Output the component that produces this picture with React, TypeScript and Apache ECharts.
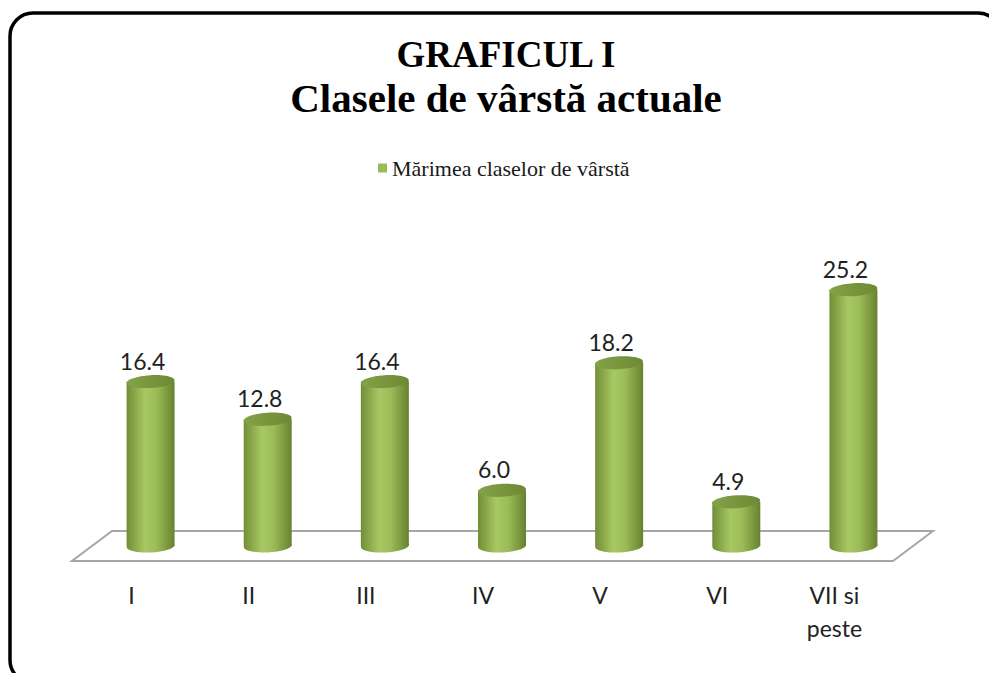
import React, { useEffect, useRef } from "react";
import * as echarts from "echarts";

const categories = ["I", "II", "III", "IV", "V", "VI", "VII si\npeste"];
const values = [16.4, 12.8, 16.4, 6.0, 18.2, 4.9, 25.2];
const seriesName = "Mărimea claselor de vârstă";
const titleText = "GRAFICUL I";
const subtitleText = "Clasele de vârstă actuale";

const SERIF = "'Liberation Serif', 'Times New Roman', serif";

export default function App() {
  const ref = useRef<HTMLDivElement>(null);
  useEffect(() => {
    if (!ref.current) return;
    const chart = echarts.init(ref.current, null, { renderer: "svg" });
    const bodyFill = () =>
      new echarts.graphic.LinearGradient(0, 0, 1, 0, [
        { offset: 0, color: "#718e35" },
        { offset: 0.38, color: "#a8c863" },
        { offset: 0.62, color: "#9cbc57" },
        { offset: 1, color: "#67822f" },
      ]);
    const topFill = () =>
      new echarts.graphic.LinearGradient(0, 0, 1, 0, [
        { offset: 0, color: "#84a248" },
        { offset: 1, color: "#6d8934" },
      ]);
    const option: any = {
      animation: false,
      backgroundColor: "#ffffff",
      title: {
        text: titleText,
        subtext: subtitleText,
        left: 506,
        top: 36,
        padding: 0,
        textAlign: "center",
        itemGap: 4,
        textStyle: {
          fontFamily: SERIF,
          fontWeight: "bold",
          fontSize: 37,
          color: "#000000",
        },
        subtextStyle: {
          fontFamily: SERIF,
          fontWeight: "bold",
          fontSize: 41,
          color: "#000000",
        },
      },
      legend: {
        data: [seriesName],
        left: 378,
        top: 157,
        padding: 0,
        icon: "rect",
        itemWidth: 9,
        itemHeight: 9,
        itemGap: 5,
        textStyle: {
          fontFamily: SERIF,
          fontSize: 22,
          color: "#1a1a1a",
        },
      },
      graphic: [
        {
          type: "rect",
          z: 0,
          shape: { x: 10, y: 13, width: 991, height: 670, r: 23 },
          style: { fill: "none", stroke: "#000000", lineWidth: 3.5 },
        },
        {
          type: "polygon",
          z: 0,
          shape: {
            points: [
              [112, 531],
              [933, 531],
              [893, 561],
              [72, 561],
            ],
          },
          style: { fill: "#ffffff", stroke: "#a6a6a6", lineWidth: 2 },
        },
      ],
      grid: { left: 92, width: 820, top: 239.5, bottom: 120, containLabel: false },
      xAxis: {
        type: "category",
        data: categories,
        boundaryGap: true,
        axisLine: { show: false },
        axisTick: { show: false },
        splitLine: { show: false },
        axisLabel: {
          margin: 25,
          fontFamily: "Lato",
          fontSize: 23,
          lineHeight: 33,
          color: "#222222",
          padding: [0, 38, 0, 0],
          interval: 0,
        },
      },
      yAxis: {
        type: "value",
        min: 0,
        max: 30,
        show: false,
        splitLine: { show: false },
      },
      series: [
        {
          name: seriesName,
          type: "custom",
          z: 5,
          itemStyle: { color: "#9bbb59" },
          encode: { x: 0, y: 1 },
          data: values.map((v, i) => [i, v]),
          renderItem: (params: any, api: any) => {
            const idx = api.value(0);
            const v = api.value(1);
            const top = api.coord([idx, v]);
            const base = api.coord([idx, 0]);
            const x = top[0];
            const yTop = top[1];
            const yBot = base[1] - 7;
            const rx = 24;
            const ry = 6.5;
            return {
              type: "group",
              children: [
                {
                  type: "ellipse",
                  x: x,
                  y: yBot,
                  rotation: 0.04,
                  shape: { cx: 0, cy: 0, rx, ry },
                  style: { fill: bodyFill() },
                },
                {
                  type: "rect",
                  shape: { x: x - rx, y: yTop, width: rx * 2, height: yBot - yTop },
                  style: { fill: bodyFill() },
                },
                {
                  type: "ellipse",
                  x: x,
                  y: yTop,
                  rotation: 0.06,
                  shape: { cx: 0, cy: 0, rx, ry },
                  style: { fill: topFill() },
                },
                {
                  type: "text",
                  x: x - 8,
                  y: yTop - 21,
                  style: {
                    text: v.toFixed(1),
                    align: "center",
                    verticalAlign: "middle",
                    fontFamily: "Lato",
                    fontSize: 23,
                    fill: "#222222",
                  },
                },
              ],
            };
          },
        },
      ],
    };
    chart.setOption(option);
    return () => chart.dispose();
  }, []);
  return (
    <div
      ref={ref}
      style={{ position: "absolute", left: 0, top: 0, width: 989, height: 673 }}
    />
  );
}
